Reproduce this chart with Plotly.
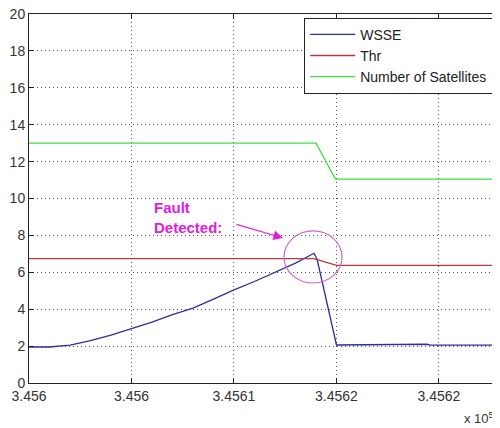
import plotly.graph_objects as go

# ---- data (x in raw units; axis shows x 10^5) ----
wsse_x = [345600, 345601.0, 345602, 345603, 345604, 345605, 345606, 345607, 345608,
          345609, 345610, 345611, 345612, 345613, 345613.9, 345614.05, 345615.0,
          345618.4, 345618.6, 345619.4, 345619.6, 345622.8]
wsse_y = [1.95, 1.95, 2.05, 2.3, 2.6, 2.93, 3.3, 3.7, 4.06,
          4.55, 5.05, 5.5, 6.0, 6.5, 7.03, 6.72, 2.06,
          2.06, 2.1, 2.1, 2.05, 2.05]

thr_x = [345600, 345613.9, 345615.0, 345622.8]
thr_y = [6.74, 6.74, 6.37, 6.37]

sat_x = [345600, 345614.0, 345614.95, 345622.8]
sat_y = [13.0, 13.0, 11.05, 11.05]

x_tickvals = [345600, 345605, 345610, 345615, 345620]
x_ticktext = ["3.456", "3.456", "3.4561", "3.4562", "3.4562"]
y_tickvals = [0, 2, 4, 6, 8, 10, 12, 14, 16, 18, 20]

X_RANGE = [345600, 345622.83]
Y_RANGE = [0, 20]

FONT = "Arial, Liberation Sans, sans-serif"

fig = go.Figure()
fig.add_trace(go.Scatter(x=wsse_x, y=wsse_y, mode="lines", name="WSSE",
                         line=dict(color="#2e2e9e", width=1.3)))
fig.add_trace(go.Scatter(x=thr_x, y=thr_y, mode="lines", name="Thr",
                         line=dict(color="#b83a3a", width=1.3)))
fig.add_trace(go.Scatter(x=sat_x, y=sat_y, mode="lines", name="Number of Satellites",
                         line=dict(color="#44dd44", width=1.3)))

axis_common = dict(
    showline=True, linecolor="#222", linewidth=1, mirror="ticks",
    ticks="inside", ticklen=5, tickcolor="#222",
    showgrid=True, gridcolor="#555", griddash="1px,3px", gridwidth=1,
    zeroline=False, automargin=False, ticklabeloverflow="allow",
    tickfont=dict(family=FONT, size=14, color="#333"),
)

# page body has an 8px default margin, so the figure is sized/offset to compensate
fig.update_layout(
    width=492, height=420,
    margin=dict(l=21, r=3, t=6, b=45),
    paper_bgcolor="white", plot_bgcolor="white",
    xaxis=dict(range=X_RANGE, tickvals=x_tickvals, ticktext=x_ticktext, **axis_common),
    yaxis=dict(range=Y_RANGE, tickvals=y_tickvals, **axis_common),
    legend=dict(x=0.588, y=0.99, xanchor="left", yanchor="top",
                bgcolor="white", bordercolor="#222", borderwidth=1,
                font=dict(family=FONT, size=14, color="#222"),
                tracegroupgap=0, itemwidth=45),
    showlegend=True,
)

# Fault detected annotation
fig.add_annotation(x=345606.0, y=10.1, xref="x", yref="y", xanchor="left", yanchor="top",
                   text="<b>Fault<br>Detected:</b>", showarrow=False, align="left",
                   font=dict(family=FONT, size=15, color="#e020e0"))
fig.add_annotation(x=345612.39, y=7.86, xref="x", yref="y", ax=-48, ay=-14,
                   text="", showarrow=True, arrowhead=2, arrowsize=1.6, arrowwidth=1.2,
                   arrowcolor="#e020e0")
fig.add_shape(type="circle", xref="x", yref="y",
              x0=345612.44, x1=345615.27, y0=5.42, y1=8.24,
              line=dict(color="#cc66cc", width=1.2))

fig.add_annotation(x=0.998, y=-0.095, xref="paper", yref="paper", xanchor="right",
                   yanchor="middle", text="x 10<sup>5</sup>", showarrow=False,
                   font=dict(family=FONT, size=13, color="#333"))

fig.write_html("out.html")
